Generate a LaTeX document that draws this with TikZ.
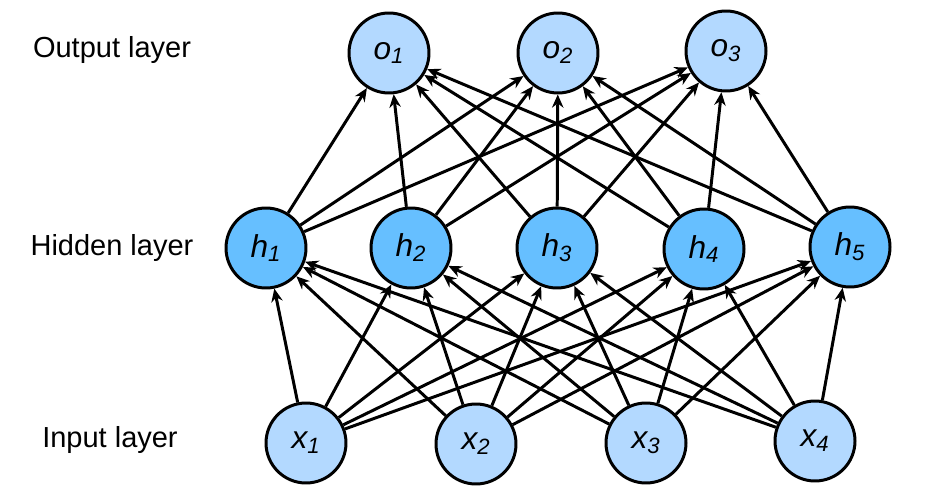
\documentclass[tikz,border=0pt]{standalone}
\usepackage{fontspec}
\setmainfont{Liberation Sans}
\usepackage{tikz}
\usetikzlibrary{
	arrows.meta,
	positioning
}
\usepackage{xcolor}
\definecolor{inblue}{RGB}{179,217,255}
\definecolor{hidblue}{RGB}{102,191,255}

\begin{document}
\begin{tikzpicture}[>={Stealth[length=7.5pt,width=6.5pt]},x=0.02cm,y=-0.02cm,
		neuron/.style={circle,draw,line width=1.7pt,minimum size=1.6cm,inner sep=0pt,font=\fontsize{18}{20}\selectfont\itshape},
		inneuron/.style={neuron,fill=inblue},
		hidneuron/.style={neuron,fill=hidblue},
		layertext/.style={font=\fontsize{16.5}{18}\selectfont}]
			
			\useasboundingbox (0,0) rectangle (925,500);
			
			\node[layertext] (outtxt) at (112,50) {Output layer};
			\node[layertext] (hidtxt) at (112,248) {Hidden layer};
			\node[layertext] (intxt) at (110,440) {Input layer};
			
			\node[inneuron] (o1) at (389,53) {o\textsubscript{1}};
			\node[inneuron] (o2) at (558,53) {o\textsubscript{2}};
			\node[inneuron] (o3) at (726,51) {o\textsubscript{3}};
			
			\node[hidneuron] (h1) at (266,248) {h\textsubscript{1}};
			\node[hidneuron] (h2) at (411,248) {h\textsubscript{2}};
			\node[hidneuron] (h3) at (557,248) {h\textsubscript{3}};
			\node[hidneuron] (h4) at (704,249) {h\textsubscript{4}};
			\node[hidneuron] (h5) at (850,247) {h\textsubscript{5}};
			
			\node[inneuron] (x1) at (306,443) {x\textsubscript{1}};
			\node[inneuron] (x2) at (476,444) {x\textsubscript{2}};
			\node[inneuron] (x3) at (646,443) {x\textsubscript{3}};
			\node[inneuron] (x4) at (815,441) {x\textsubscript{4}};
			
			\foreach \i in {1,...,4}
			\foreach \j in {1,...,5}
			\draw[->,line width=1.7pt] (x\i)--(h\j);
			
			\foreach \j in {1,...,5}
			\foreach \k in {1,...,3}
			\draw[->,line width=1.7pt] (h\j)--(o\k);
			
		\end{tikzpicture}
\end{document}
